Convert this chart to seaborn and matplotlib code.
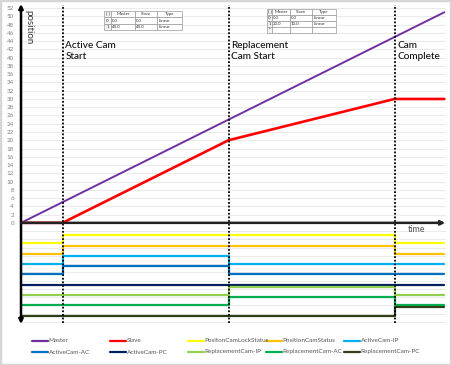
import matplotlib
matplotlib.use("Agg")
import matplotlib.pyplot as plt
import seaborn as sns
import pandas as pd
from matplotlib.lines import Line2D
from matplotlib.patches import Rectangle

# data
time_pts = [0, 5, 25, 45, 51]
master_pos = [0, 5, 25, 45, 51]
slave_pos = [0, 0, 20, 30, 30]

signal_names = ["PositonCamLockStatus", "PositionCamStatus", "ActiveCam-IP", "ActiveCam-AC",
                "ActiveCam-PC", "ReplacementCam-IP", "ReplacementCam-AC", "ReplacementCam-PC"]
# state per segment: 0-5, 5-25, 25-45, 45-end
signal_states = [
    [0, 1, 1, 0],
    [0, 1, 1, 0],
    [0, 1, 0, 0],
    [0, 1, 0, 0],
    [0, 0, 0, 0],
    [0, 0, 1, 0],
    [0, 0, 1, 0],
    [0, 0, 0, 1],
]
signal_colors = ["#ffff00", "#ffc000", "#00b0f0", "#0070c0", "#002060", "#92d050", "#00b050", "#2f3f1a"]

event_times = [5, 25, 45]
event_labels = ["Active Cam\nStart", "Replacement\nCam Start", "Cam\nComplete"]

table1 = [["0", "0.0", "0.0", "Linear"], ["1", "40.0", "40.0", "Linear"]]
table2 = [["0", "0.0", "0.0", "Linear"], ["1", "20.0", "10.0", "Linear"], ["*", "", "", ""]]
table_cols = ["[ ]", "Master", "Slave", "Type"]

sns.set_style("white")
plt.rcParams["font.family"] = ["Lato", "DejaVu Sans"]

W, H = 451, 365
fig = plt.figure(figsize=(W / 100, H / 100), dpi=100)
L, R, T, B = 21, 446, 4, 324
ax = fig.add_axes([L / W, 1 - B / H, (R - L) / W, (B - T) / H])
ax.set_xlim(0, 51.2)
ax.set_ylim(-24.5, 53)
for s in ax.spines.values():
    s.set_visible(False)

for y in range(-24, 53, 2):
    ax.axhline(y, color="#ebebeb", lw=0.8, zorder=0)

ax.set_xticks([])
ax.set_yticks(range(0, 53, 2))
ax.tick_params(axis="y", length=0, pad=5, labelsize=4.5, labelcolor="#808080")

df = pd.DataFrame({"time": time_pts, "Master": master_pos, "Slave": slave_pos})
sns.lineplot(data=df, x="time", y="Master", color="#7030a0", lw=1.4, ax=ax, zorder=4)
sns.lineplot(data=df, x="time", y="Slave", color="#ff0000", lw=1.9, ax=ax, zorder=4)

for i, (states, col) in enumerate(zip(signal_states, signal_colors)):
    low = -5 - 2.5 * i
    ys = [low + 2 * s for s in states] + [low + 2 * states[-1]]
    sig = pd.DataFrame({"time": time_pts, "level": ys})
    sns.lineplot(data=sig, x="time", y="level", color=col, lw=1.6, drawstyle="steps-post", ax=ax, zorder=3)

ax.set_xlabel("")
ax.set_ylabel("")

ax.vlines(event_times, -24.3, 52.8, colors="black", linestyles=(0, (1, 1)), lw=1.3, zorder=5)
for t, lab in zip(event_times, event_labels):
    ax.text(t + 0.35, 41.6, lab, fontsize=7.2, va="center", ha="left", linespacing=1.25,
            color="#111111", fontweight="medium")

# axes arrows
ax.annotate("", xy=(0, 53), xytext=(0, -24.5),
            arrowprops=dict(arrowstyle="<|-|>", color="black", lw=1.8, mutation_scale=6, shrinkA=0, shrinkB=0),
            zorder=6)
ax.annotate("", xy=(51.1, 0), xytext=(0, 0),
            arrowprops=dict(arrowstyle="-|>", color="#222222", lw=1.8, mutation_scale=6, shrinkA=0, shrinkB=0),
            zorder=6)
ax.text(47.7, -1.7, "time", fontsize=6.5, ha="center", va="center", color="#555555")
ax.text(1.0, 51.6, "position", fontsize=7, rotation=270, ha="center", va="top", color="#333333")


def px_box(x0, y0, x1, y1):
    return [(x0 - L) / (R - L), (B - y1) / (B - T), (x1 - x0) / (R - L), (y1 - y0) / (B - T)]


def add_table(rows, box, widths):
    tb = ax.table(cellText=rows, colLabels=table_cols, bbox=px_box(*box), colWidths=widths,
                  cellLoc="left", zorder=7)
    tb.auto_set_font_size(False)
    tb.set_fontsize(3.2)
    for (r, c), cell in tb.get_celld().items():
        cell.set_edgecolor("#9a9a9a")
        cell.set_linewidth(0.5)
        cell.PAD = 0.05
        cell.get_text().set_color("#333333")
        if c == 0:
            cell.set_facecolor("#f2f2f2")
            cell.get_text().set_ha("center")
    return tb


add_table(table1, (104, 11, 182, 30), [7, 24, 22, 25])
add_table(table2, (267, 9, 336, 33), [5, 18, 22, 24])

# legend (fixed-width columns)
leg_names = ["Master", "Slave"] + signal_names
leg_colors = ["#7030a0", "#ff0000"] + signal_colors
for k in range(len(leg_names)):
    col, row = k % 5, k // 5
    x0 = 32 + 78 * col
    yy = 341 + 11 * row
    fig.add_artist(Line2D([x0 / W, (x0 + 16) / W], [1 - yy / H, 1 - yy / H], color=leg_colors[k], lw=1.6))
    fig.text((x0 + 16.5) / W, 1 - yy / H, leg_names[k], fontsize=4.6, va="center", ha="left", color="#555555")

fig.add_artist(Rectangle((0, 0), 1, 1, transform=fig.transFigure, fill=False, edgecolor="#d6d6d6", lw=2.5))

fig.savefig("out.png", dpi=100)
